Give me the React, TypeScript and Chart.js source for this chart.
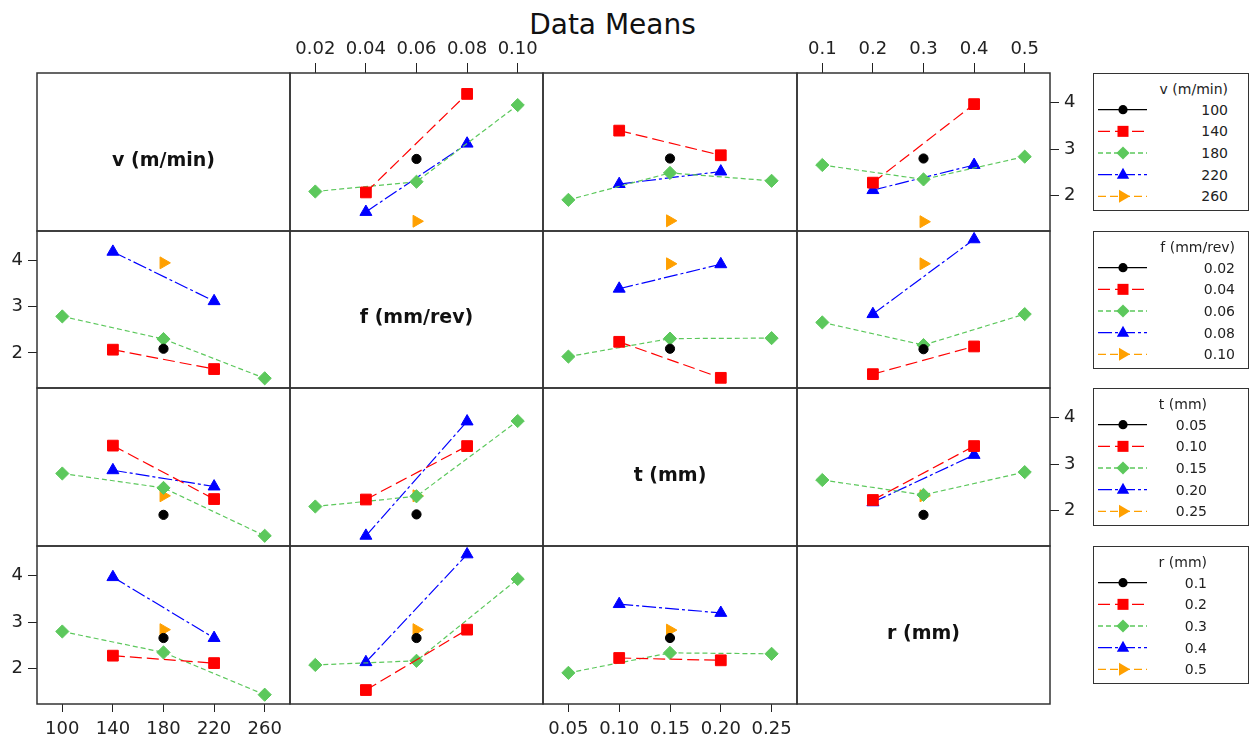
import React, { useEffect, useRef } from "react";
import { Chart, registerables } from "chart.js";

Chart.register(...registerables);

const FONT = "'DejaVu Sans', Verdana, sans-serif";

// ---------------- data ----------------
const FACTOR_NAMES = ["v (m/min)", "f (mm/rev)", "t (mm)", "r (mm)"];
const V_LEVELS = [100, 140, 180, 220, 260];
const F_LEVELS = [0.02, 0.04, 0.06, 0.08, 0.1];
const T_LEVELS = [0.05, 0.1, 0.15, 0.2, 0.25];
const R_LEVELS = [0.1, 0.2, 0.3, 0.4, 0.5];
const V_LABELS = ["100", "140", "180", "220", "260"];
const F_LABELS = ["0.02", "0.04", "0.06", "0.08", "0.10"];
const T_LABELS = ["0.05", "0.10", "0.15", "0.20", "0.25"];
const R_LABELS = ["0.1", "0.2", "0.3", "0.4", "0.5"];
const Y_TICKS = [2, 3, 4];
const Y_TICK_LABELS = ["2", "3", "4"];
const Y_MIN = 1.24;
const Y_MAX = 4.64;
const X_MIN = [80, 0.01, 0.025, 0.05];
const X_MAX = [280, 0.11, 0.275, 0.55];

const _ = null;
// rows: levels of the first factor, columns: levels of the second factor
const MEANS_V_F = [
  [_, _, 2.79, _, _],
  [_, 2.07, _, 4.19, _],
  [2.09, _, 2.3, _, 3.95],
  [_, 1.65, _, 3.12, _],
  [_, _, 1.45, _, _],
];
const MEANS_V_T = [
  [_, _, 2.8, _, _],
  [_, 3.4, _, 2.87, _],
  [1.91, _, 2.49, _, 2.32],
  [_, 2.25, _, 2.52, _],
  [_, _, 1.46, _, _],
];
const MEANS_V_R = [
  [_, _, 2.8, _, _],
  [_, 2.28, _, 3.97, _],
  [2.66, _, 2.35, _, 2.84],
  [_, 2.12, _, 2.66, _],
  [_, _, 1.44, _, _],
];
const MEANS_F_T = [
  [_, _, 2.09, _, _],
  [_, 2.24, _, 1.46, _],
  [1.92, _, 2.31, _, 2.32],
  [_, 3.39, _, 3.92, _],
  [_, _, 3.93, _, _],
];
const MEANS_F_R = [
  [_, _, 2.08, _, _],
  [_, 1.54, _, 2.14, _],
  [2.66, _, 2.17, _, 2.84],
  [_, 2.84, _, 4.46, _],
  [_, _, 3.93, _, _],
];
const MEANS_T_R = [
  [_, _, 1.91, _, _],
  [_, 2.23, _, 3.39, _],
  [2.66, _, 2.34, _, 2.83],
  [_, 2.18, _, 3.2, _],
  [_, _, 2.32, _, _],
];

const LEVELS = [V_LEVELS, F_LEVELS, T_LEVELS, R_LEVELS];
const LEVEL_LABELS = [V_LABELS, F_LABELS, T_LABELS, R_LABELS];
const PAIR_TABLES: Record<string, (number | null)[][]> = {
  "01": MEANS_V_F,
  "02": MEANS_V_T,
  "03": MEANS_V_R,
  "12": MEANS_F_T,
  "13": MEANS_F_R,
  "23": MEANS_T_R,
};

function tableFor(i: number, j: number): (number | null)[][] {
  const a = Math.min(i, j);
  const b = Math.max(i, j);
  const t = PAIR_TABLES[`${a}${b}`];
  if (i < j) return t;
  return t[0].map((_c, cj) => t.map((row) => row[cj]));
}

// ---------------- styles ----------------
const COLORS = ["#000000", "#ff0000", "#5cc85c", "#0000ff", "#ffa000"];
const DASHES = [[], [12, 5], [5, 3], [14, 3, 3, 3], [8, 4]];
const SHAPES = ["circle", "rect", "rectRot", "triangle", "triangle"];
const ROTATIONS = [0, 0, 0, 0, 90];
const RADII = [4.6, 7.6, 6.6, 6.9, 6.9];

const GRID_X = [37, 290, 543, 797, 1050];
const GRID_Y = [73, 231, 388, 546, 704];
const PAD = 3;
const TOP_H = 40;
const BOT_H = 36;
const LEFT_W = 37;
const RIGHT_W = 40;
const DIAG_LABEL_DY = 9;

const framePlugin = {
  id: "panelFrame",
  afterDraw(chart: any, _args: any, opts: any) {
    const { ctx, chartArea: a } = chart;
    ctx.save();
    if (opts && opts.label) {
      ctx.font = `bold 19px ${FONT}`;
      ctx.fillStyle = "#111";
      ctx.textAlign = "center";
      ctx.textBaseline = "middle";
      ctx.fillText(opts.label, (a.left + a.right) / 2, (a.top + a.bottom) / 2 + DIAG_LABEL_DY);
    }
    ctx.strokeStyle = "#333";
    ctx.lineWidth = 1.5;
    ctx.strokeRect(a.left, a.top, a.right - a.left, a.bottom - a.top);
    ctx.restore();
  },
};

function Panel({ row, col }: { row: number; col: number }) {
  const ref = useRef<HTMLCanvasElement>(null);
  const hasTop = row === 0 && col % 2 === 1;
  const hasBottom = row === 3 && col % 2 === 0;
  const hasLeft = col === 0 && row % 2 === 1;
  const hasRight = col === 3 && row % 2 === 0;
  const showX = hasTop || hasBottom;
  const showY = hasLeft || hasRight;
  const padL = hasLeft ? LEFT_W : PAD;
  const padR = hasRight ? RIGHT_W : PAD;
  const padT = hasTop ? TOP_H : PAD;
  const padB = hasBottom ? BOT_H : PAD;
  const left = GRID_X[col] - padL;
  const top = GRID_Y[row] - padT;
  const width = GRID_X[col + 1] - GRID_X[col] + padL + padR;
  const height = GRID_Y[row + 1] - GRID_Y[row] + padT + padB;

  useEffect(() => {
    if (!ref.current) return;
    const diag = row === col;
    const datasets: any[] = [];
    if (!diag) {
      const table = tableFor(row, col);
      LEVELS[row].forEach((_lv, li) => {
        const pts = LEVELS[col]
          .map((x, lj) => ({ x, y: table[li][lj] }))
          .filter((p) => p.y !== null);
        datasets.push({
          label: LEVEL_LABELS[row][li],
          data: pts,
          borderColor: COLORS[li],
          backgroundColor: COLORS[li],
          pointBackgroundColor: COLORS[li],
          pointBorderColor: COLORS[li],
          pointBorderWidth: 1,
          borderWidth: 1.2,
          borderDash: DASHES[li],
          pointStyle: SHAPES[li],
          pointRotation: ROTATIONS[li],
          pointRadius: RADII[li],
          tension: 0,
          fill: false,
          clip: false,
        });
      });
    }
    const tickFont = { family: FONT, size: 18 };
    const chart = new Chart(ref.current, {
      type: "line",
      data: { datasets },
      plugins: [framePlugin as any],
      options: {
        responsive: false,
        animation: false,
        devicePixelRatio: 1,
        events: [],
        layout: {
          autoPadding: false,
          padding: {
            left: hasLeft ? 0 : PAD,
            right: hasRight ? 0 : PAD,
            top: hasTop ? 0 : PAD,
            bottom: hasBottom ? 0 : PAD,
          },
        },
        plugins: {
          legend: { display: false },
          tooltip: { enabled: false },
          panelFrame: { label: diag ? FACTOR_NAMES[row] : "" },
        } as any,
        scales: {
          x: {
            type: "linear",
            min: X_MIN[col],
            max: X_MAX[col],
            position: hasTop ? "top" : "bottom",
            display: showX,
            afterBuildTicks: (s: any) => {
              s.ticks = LEVELS[col].map((v) => ({ value: v }));
            },
            afterFit: (s: any) => {
              s.height = showX ? (hasTop ? TOP_H : BOT_H) : 0;
              s.paddingLeft = 0;
              s.paddingRight = 0;
              s.paddingTop = 0;
              s.paddingBottom = 0;
            },
            grid: {
              drawOnChartArea: false,
              drawTicks: true,
              tickLength: hasTop ? 10 : 8,
              color: "#222",
              lineWidth: 1,
            },
            border: { display: false },
            ticks: {
              autoSkip: false,
              maxRotation: 0,
              font: tickFont,
              color: "#222",
              padding: hasTop ? 3 : 7,
              callback: (_v: any, idx: number) => LEVEL_LABELS[col][idx],
            },
          },
          y: {
            type: "linear",
            min: Y_MIN,
            max: Y_MAX,
            position: hasLeft ? "left" : "right",
            display: showY,
            afterBuildTicks: (s: any) => {
              s.ticks = Y_TICKS.map((v) => ({ value: v }));
            },
            afterFit: (s: any) => {
              s.width = showY ? (hasLeft ? LEFT_W : RIGHT_W) : 0;
              s.paddingLeft = 0;
              s.paddingRight = 0;
              s.paddingTop = 0;
              s.paddingBottom = 0;
            },
            grid: {
              drawOnChartArea: false,
              drawTicks: true,
              tickLength: 9,
              color: "#222",
              lineWidth: 1,
            },
            border: { display: false },
            ticks: {
              font: tickFont,
              color: "#222",
              padding: 5,
              callback: (_v: any, idx: number) => Y_TICK_LABELS[idx],
            },
          },
        },
      } as any,
    });
    return () => chart.destroy();
  }, []);

  return (
    <canvas
      ref={ref}
      width={width}
      height={height}
      style={{ position: "absolute", left, top, width, height }}
    />
  );
}

const LEGEND_LEFT = 1093;
const LEGEND_W = 156;
const LEGEND_H = 138;
const LEGEND_TOPS = [73, 231, 388, 546];
const LEGEND_TEXT_RIGHT = [135, 142, 114, 114];

function Marker({ k, cx, cy }: { k: number; cx: number; cy: number }) {
  const c = COLORS[k];
  if (k === 0) return <circle cx={cx} cy={cy} r={4.6} fill={c} />;
  if (k === 1) return <rect x={cx - 5.5} y={cy - 5.5} width={11} height={11} fill={c} />;
  if (k === 2)
    return <polygon points={`${cx - 6.6},${cy} ${cx},${cy - 6.6} ${cx + 6.6},${cy} ${cx},${cy + 6.6}`} fill={c} />;
  if (k === 3)
    return <polygon points={`${cx},${cy - 7} ${cx + 6.2},${cy + 4} ${cx - 6.2},${cy + 4}`} fill={c} />;
  return <polygon points={`${cx - 4},${cy - 6.5} ${cx + 7},${cy} ${cx - 4},${cy + 6.5}`} fill={c} />;
}

function Legend({ index }: { index: number }) {
  const top = LEGEND_TOPS[index];
  const right = LEGEND_TEXT_RIGHT[index];
  const rows = LEVEL_LABELS[index];
  return (
    <div
      style={{
        position: "absolute",
        left: LEGEND_LEFT,
        top,
        width: LEGEND_W,
        height: LEGEND_H,
        border: "1px solid #333",
        boxSizing: "border-box",
        fontFamily: FONT,
        color: "#222",
      }}
    >
      <svg width={LEGEND_W} height={LEGEND_H} style={{ position: "absolute", left: -1, top: -1 }}>
        {rows.map((_l, k) => {
          const cy = 36.7 + k * 21.65;
          return (
            <g key={k}>
              <line
                x1={5}
                x2={54}
                y1={cy}
                y2={cy}
                stroke={COLORS[k]}
                strokeWidth={1.3}
                strokeDasharray={DASHES[k].length ? DASHES[k].join(" ") : undefined}
              />
              <Marker k={k} cx={30} cy={cy} />
            </g>
          );
        })}
      </svg>
      <div
        style={{
          position: "absolute",
          right: LEGEND_W - right - 1,
          top: 14.5 - 8,
          fontSize: 14,
          lineHeight: "16px",
          whiteSpace: "nowrap",
        }}
      >
        {FACTOR_NAMES[index]}
      </div>
      {rows.map((l, k) => (
        <div
          key={k}
          style={{
            position: "absolute",
            right: LEGEND_W - right - 1,
            top: 36.7 + k * 21.65 - 9,
            fontSize: 14,
            lineHeight: "16px",
            whiteSpace: "nowrap",
          }}
        >
          {l}
        </div>
      ))}
    </div>
  );
}

export default function App() {
  const panels: React.ReactNode[] = [];
  for (let r = 0; r < 4; r++) {
    for (let c = 0; c < 4; c++) {
      panels.push(<Panel key={`${r}-${c}`} row={r} col={c} />);
    }
  }
  return (
    <div
      style={{
        position: "absolute",
        left: 0,
        top: 0,
        width: 1250,
        height: 740,
        background: "#fff",
        overflow: "hidden",
      }}
    >
      <div
        style={{
          position: "absolute",
          left: 0,
          width: 1225,
          top: 10,
          textAlign: "center",
          fontFamily: FONT,
          fontSize: 28,
          lineHeight: "30px",
          color: "#111",
        }}
      >
        Data Means
      </div>
      {panels}
      {[0, 1, 2, 3].map((i) => (
        <Legend key={i} index={i} />
      ))}
    </div>
  );
}
